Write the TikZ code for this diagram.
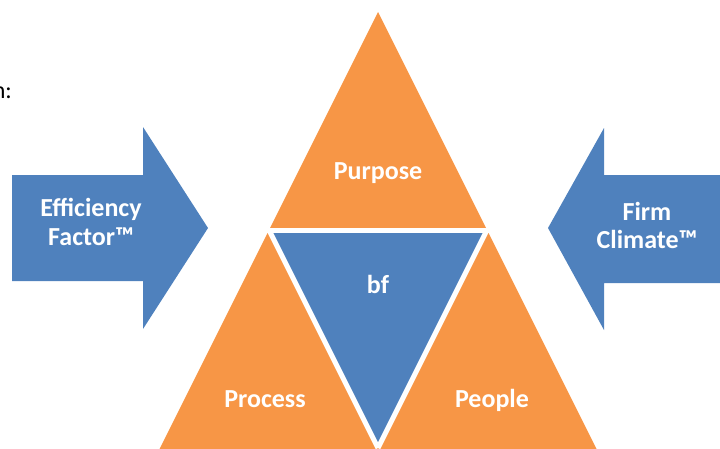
\documentclass[tikz,border=0pt]{standalone}
\usepackage{fontspec}
\setmainfont{Carlito}
\definecolor{accorange}{HTML}{F79646}
\definecolor{accblue}{HTML}{4F81BD}
\begin{document}
\begin{tikzpicture}[x=1pt,y=-1pt,
  lbl/.style={text=white,font=\bfseries\fontsize{26}{29}\selectfont,align=center,inner sep=0pt},
  gap/.style={draw=white,line width=5pt,line cap=butt},
  arrowshape/.style={fill=accblue}]
\useasboundingbox (0,0) rectangle (720,448);
\clip (0,0) rectangle (720,448);
% triforce corners
\coordinate (A) at (378,12);
\coordinate (ML) at (269,230);
\coordinate (MR) at (487,230);
\coordinate (BL) at (149,470);
\coordinate (BM) at (378,448);
\coordinate (BR) at (607,470);
\coordinate (ML2) at (264,230);
\coordinate (MR2) at (492,230);
\fill[accorange] (A) -- (BR) -- (BL) -- cycle;
\fill[accblue] (ML) -- (MR) -- (BM) -- cycle;
\draw[gap] (ML2) -- (MR2);
\draw[gap] (ML) -- (BM);
\draw[gap] (MR) -- (BM);
% arrows
\fill[arrowshape] (12,175) -- (143,175) -- (143,127) -- (208,228) -- (143,329) -- (143,281) -- (12,281) -- cycle;
\fill[arrowshape] (722,175) -- (604,175) -- (604,128) -- (548,228) -- (604,330) -- (604,283) -- (722,283) -- cycle;
% labels
\node[lbl,anchor=base] (purpose) at (378,179) {Purpose};
\node[lbl,anchor=base] (bf) at (378,293) {bf};
\node[lbl,anchor=base] (process) at (265,407) {Process};
\node[lbl,anchor=base] (people) at (492,407) {People};
\node[lbl,anchor=base] (eff) at (91,216) {Efficiency};
\node[lbl,anchor=base] (fac) at (91,245) {Factor™};
\node[lbl,anchor=base] (firm) at (647,220) {Firm};
\node[lbl,anchor=base] (clim) at (647,248) {Climate™};
\node[anchor=base east,inner sep=0pt,font=\fontsize{24}{29}\selectfont] (cut) at (12,98) {n:};
\end{tikzpicture}
\end{document}
